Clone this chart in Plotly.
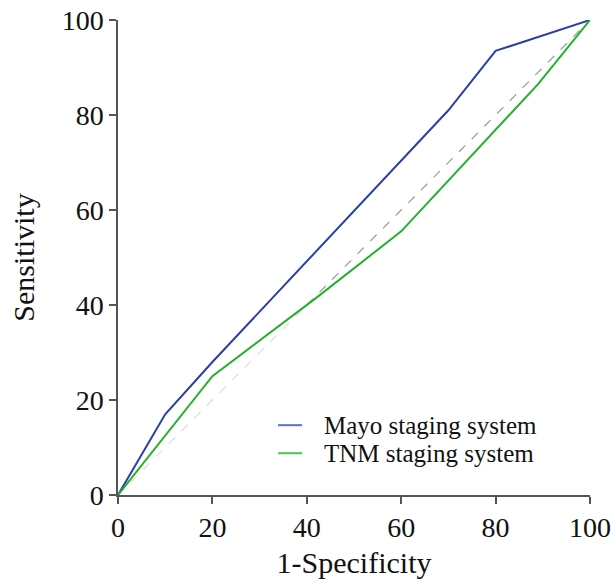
import plotly.graph_objects as go

mayo_x = [0, 10, 20, 70, 80, 100]
mayo_y = [0, 17, 28, 81, 93.5, 100]
tnm_x = [0, 20, 42, 60, 89, 100]
tnm_y = [0, 25, 41.5, 55.5, 86.5, 100]
ref_low = [0, 40]
ref_high = [40, 100]
ticks = [0, 20, 40, 60, 80, 100]
series_names = ["Mayo staging system", "TNM staging system"]
series_colors = ["#2a3fa8", "#25b02a"]
legend_colors = ["#5a6fcf", "#4cc54f"]

font_family = "Liberation Serif, Times New Roman, serif"

fig = go.Figure()
fig.add_trace(go.Scatter(x=ref_low, y=ref_low, mode="lines",
                         line=dict(color="#dcdcdc", width=1.2, dash="dash"),
                         showlegend=False, hoverinfo="skip", cliponaxis=False))
fig.add_trace(go.Scatter(x=ref_high, y=ref_high, mode="lines",
                         line=dict(color="#9a9a9a", width=1.2, dash="dash"),
                         showlegend=False, hoverinfo="skip", cliponaxis=False))
fig.add_trace(go.Scatter(x=mayo_x, y=mayo_y, mode="lines", name=series_names[0],
                         line=dict(color=series_colors[0], width=2), cliponaxis=False,
                         showlegend=False))
fig.add_trace(go.Scatter(x=tnm_x, y=tnm_y, mode="lines", name=series_names[1],
                         line=dict(color=series_colors[1], width=2), cliponaxis=False,
                         showlegend=False))

# custom legend (line sample + label)
legend_y = [0.147, 0.088]
for name, col, ly in zip(series_names, legend_colors, legend_y):
    fig.add_shape(type="line", xref="paper", yref="paper",
                  x0=0.339, x1=0.390, y0=ly, y1=ly,
                  line=dict(color=col, width=2))
    fig.add_annotation(xref="paper", yref="paper", x=0.432, y=ly,
                       xanchor="left", yanchor="middle", showarrow=False,
                       text=name, font=dict(family=font_family, size=25, color="#111111"))

axis_common = dict(
    range=[0, 100], tickvals=ticks, ticktext=[str(t) for t in ticks],
    showgrid=False, zeroline=False, showline=True, linecolor="#555555", linewidth=1.5,
    ticks="outside", ticklen=7, tickwidth=1.5, tickcolor="#555555",
    tickfont=dict(family=font_family, size=28, color="#111111"),
    automargin=False,
)

fig.update_layout(
    width=615, height=579,
    margin=dict(l=118, r=25, t=20, b=84),
    plot_bgcolor="white", paper_bgcolor="white",
    font=dict(family=font_family, color="#111111"),
    showlegend=False,
    xaxis=dict(**axis_common, title=dict(text="1-Specificity", font=dict(size=30, family=font_family), standoff=12)),
    yaxis=dict(**axis_common, title=dict(text="Sensitivity", font=dict(size=30, family=font_family), standoff=18)),
)

fig.write_html("out.html")
